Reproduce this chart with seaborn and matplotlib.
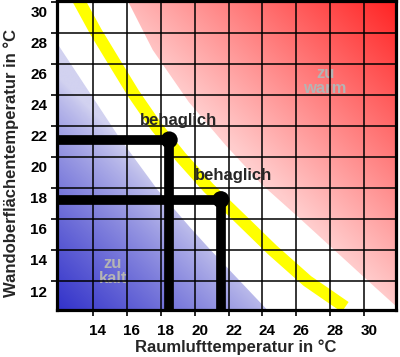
import numpy as np
import matplotlib
matplotlib.use("Agg")
import matplotlib.pyplot as plt
import matplotlib.transforms as mtransforms
from matplotlib.patches import Polygon
import seaborn as sns

# ------------------- Data -------------------
# yellow comfort curve (Raumluft vs. Wandoberflaeche)
comfort_x = [12.96, 14.18, 15.29, 16.41, 17.71, 19.18, 20.82, 22.71, 24.59, 26.65, 28.88]
comfort_y = [30.5, 28.06, 26.06, 24.06, 22.0, 20.0, 18.0, 16.0, 14.0, 12.0, 10.32]

# two example comfort points
point_x = [18.5, 21.55]
point_y = [21.1, 17.25]
point_label = ["behaglich", "behaglich"]

# boundary of the "zu warm" zone
warm_x = [15.86, 16.06, 17.53, 19.65, 21.82, 24.0, 26.24, 28.24, 30.18, 32.0, 32.6]
warm_y = [30.5, 30.06, 26.9, 23.55, 20.77, 18.19, 16.0, 14.0, 12.06, 10.26, 9.66]

# boundary of the "zu kalt" zone
cold_x = [11.5, 11.88, 15.53, 17.82, 19.76, 20.94, 24.29, 24.75]
cold_y = [27.98, 27.35, 21.29, 17.87, 15.42, 14.0, 10.13, 9.6]

x_ticks = list(range(14, 31, 2))
y_ticks = list(range(12, 31, 2))
x_lim = (11.88, 31.88)
y_lim = (10.13, 30.06)

# ------------------- Style -------------------
sns.set_style("white")
plt.rcParams["font.family"] = ["Liberation Sans", "DejaVu Sans"]
plt.rcParams["font.weight"] = "bold"

fig = plt.figure(figsize=(4, 3.57), dpi=100)
ax = fig.add_axes([57 / 400, 47 / 357, 339 / 400, 309 / 357])

# ------------------- Gradient zones -------------------
ext = [11.5, 32.5, 9.5, 30.5]
gx = np.linspace(ext[0], ext[1], 420)
gy = np.linspace(ext[2], ext[3], 420)
X, Y = np.meshgrid(gx, gy)
PX = 92 + (X - 14) * 17
PY = 281 - (Y - 12) * 15.5

# warm: pink at the boundary -> red in the upper right corner
t = np.clip((PX - PY - 85) / 310, 0, 1)
warm_img = np.dstack([np.ones_like(t), (205 - 170 * t) / 255, (205 - 170 * t) / 255])
# cold: lavender at the boundary -> blue in the lower left corner
t = np.clip((PY - PX - 20) / 234, 0, 1) ** 0.8
cold_img = np.dstack([(210 - 160 * t) / 255, (210 - 160 * t) / 255, (240 - 38 * t) / 255])

warm_poly = Polygon(list(zip(warm_x, warm_y)) + [(32.6, 30.5)], closed=True, transform=ax.transData)
cold_poly = Polygon(list(zip(cold_x, cold_y)) + [(11.5, 9.6)], closed=True, transform=ax.transData)

im = ax.imshow(warm_img, origin="lower", extent=ext, aspect="auto", interpolation="bilinear", zorder=0)
im.set_clip_path(warm_poly)
im = ax.imshow(cold_img, origin="lower", extent=ext, aspect="auto", interpolation="bilinear", zorder=0)
im.set_clip_path(cold_poly)

ax.text(27.7, 24.9, "zu\nwarm", color="#b4b4b4", fontsize=12, fontweight="bold",
        ha="center", va="center", linespacing=1.0, zorder=1)
ax.text(15.18, 12.65, "zu\nkalt", color="#b4b4b4", fontsize=12, fontweight="bold",
        ha="center", va="center", linespacing=1.0, zorder=1)

# ------------------- Comfort curve -------------------
sns.lineplot(x=comfort_x, y=comfort_y, sort=False, estimator=None, color="#ffff00",
             linewidth=8.8, ax=ax, zorder=2, solid_capstyle="butt")

# ------------------- Example points with guide lines -------------------
for px_, py_ in zip(point_x, point_y):
    sns.lineplot(x=[x_lim[0] - 1, px_, px_], y=[py_, py_, y_lim[0] - 1], sort=False,
                 estimator=None, color="black", linewidth=7, ax=ax, zorder=3,
                 solid_joinstyle="round")
sns.scatterplot(x=point_x, y=point_y, color="black", s=150, edgecolor="none", ax=ax, zorder=4)
ax.annotate(point_label[0], (point_x[0], point_y[0]), xytext=(7, 14), textcoords="offset points",
            ha="center", va="center", fontsize=12, fontweight="bold", zorder=5)
ax.annotate(point_label[1], (point_x[1], point_y[1]), xytext=(9, 17), textcoords="offset points",
            ha="center", va="center", fontsize=12, fontweight="bold", zorder=5)

# ------------------- Axes -------------------
ax.set_xlim(x_lim)
ax.set_ylim(y_lim)
ax.set_xticks(x_ticks)
ax.set_yticks(y_ticks)
ax.grid(True, color="black", linewidth=1.1)
ax.set_axisbelow(False)
ax.tick_params(bottom=True, left=True, direction="out", length=4, width=1.2,
               labelsize=11, colors="black", pad=3)
ax.tick_params(axis="x", pad=6)
for s in ax.spines.values():
    s.set_linewidth(2.3)
    s.set_color("black")
    s.set_zorder(6)

# tick labels in the original sit a bit off the grid lines
for lab in ax.get_xticklabels():
    lab.set_fontweight("bold")
    lab.set_transform(lab.get_transform() + mtransforms.ScaledTranslation(0.05, 0, fig.dpi_scale_trans))
for lab in ax.get_yticklabels():
    lab.set_fontweight("bold")
    lab.set_transform(lab.get_transform() + mtransforms.ScaledTranslation(0, -0.10, fig.dpi_scale_trans))

ax.set_xlabel("Raumlufttemperatur in °C", fontsize=12, fontweight="bold")
ax.set_ylabel("Wandoberflächentemperatur in °C", fontsize=12, fontweight="bold")
ax.xaxis.set_label_coords(0.528, -0.095)
ax.yaxis.set_label_coords(-0.112, 0.476)

fig.savefig("out.png", dpi=100)
plt.close()
